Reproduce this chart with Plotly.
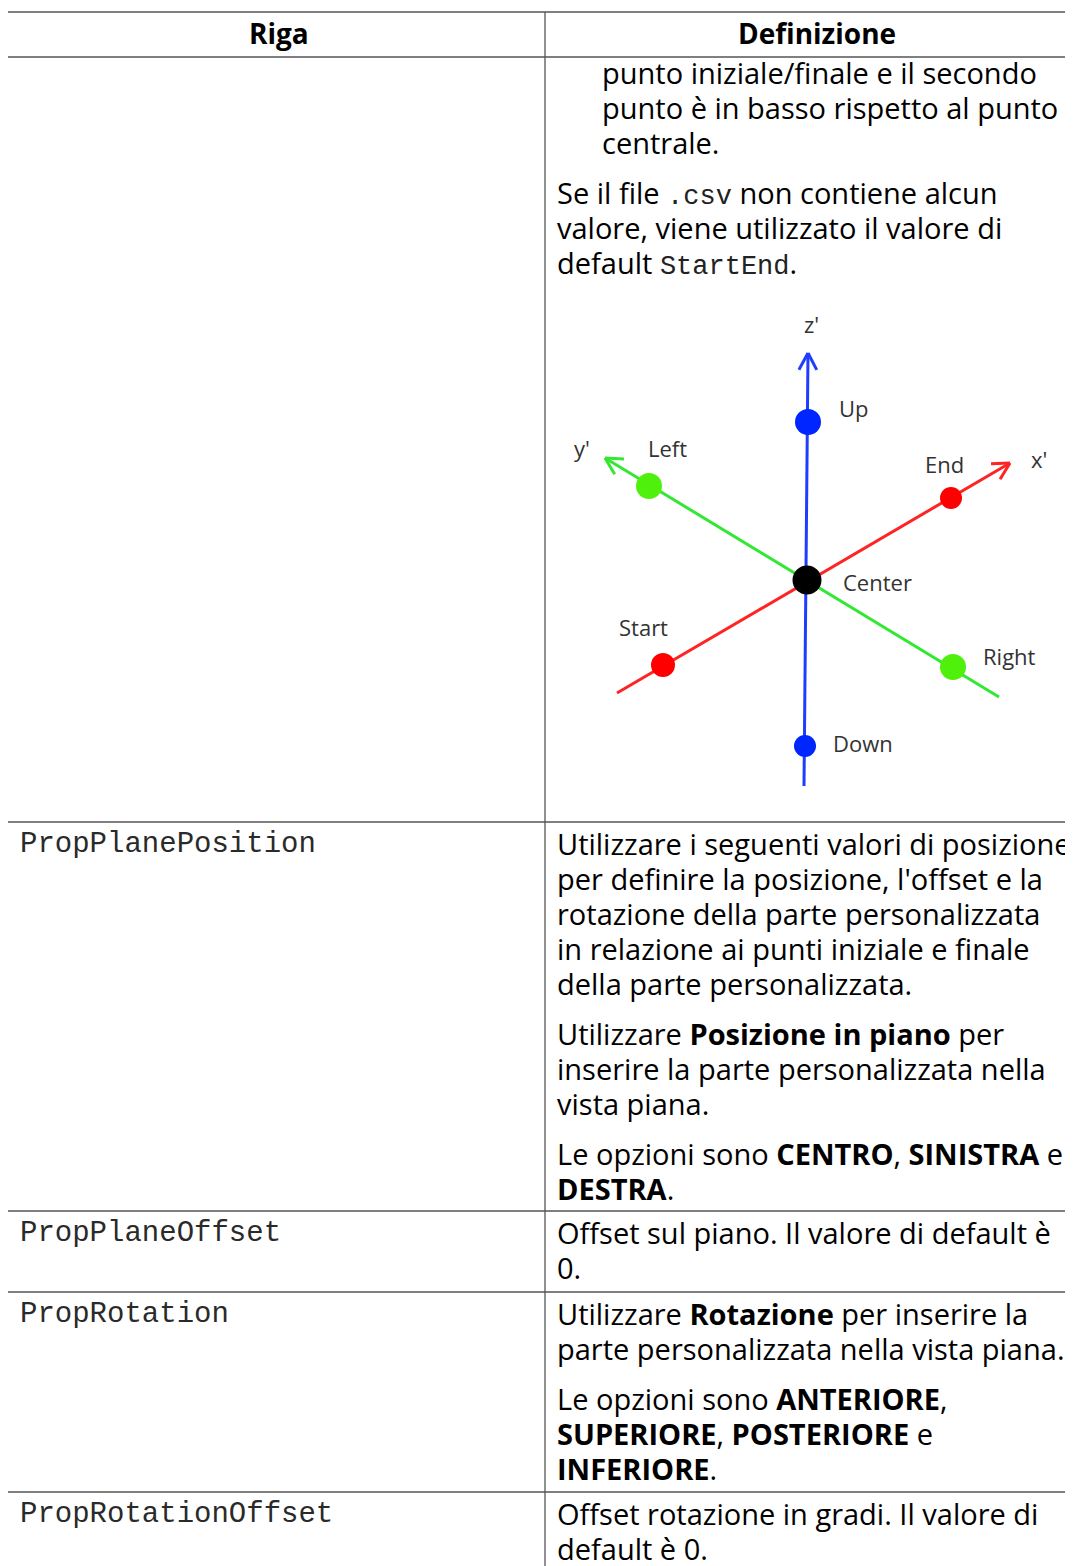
import numpy as np
import plotly.graph_objects as go

PAGE_W, PAGE_H = 1073, 1566
PAD = 8  # default body margin of the html page
W, H = PAGE_W - PAD, PAGE_H - PAD

# ---------------- table content ----------------
header_labels = ["Riga", "Definizione"]
row_names = ["", "PropPlanePosition", "PropPlaneOffset", "PropRotation", "PropRotationOffset"]

MONO = "<span style=\"font-family:Liberation Mono;font-size:27px;fill:#222\">{}</span>"

row_definitions = [
    [
        ["punto iniziale/finale e il secondo",
         "punto è in basso rispetto al punto",
         "centrale."],
        ["Se il file " + MONO.format(".csv") + " non contiene alcun",
         "valore, viene utilizzato il valore di",
         "default " + MONO.format("StartEnd") + "."],
    ],
    [
        ["Utilizzare i seguenti valori di posizione",
         "per definire la posizione, l'offset e la",
         "rotazione della parte personalizzata",
         "in relazione ai punti iniziale e finale",
         "della parte personalizzata."],
        ["Utilizzare <b>Posizione in piano</b> per",
         "inserire la parte personalizzata nella",
         "vista piana."],
        ["Le opzioni sono <b>CENTRO</b>, <b>SINISTRA</b> e",
         "<b>DESTRA</b>."],
    ],
    [
        ["Offset sul piano. Il valore di default è",
         "0."],
    ],
    [
        ["Utilizzare <b>Rotazione</b> per inserire la",
         "parte personalizzata nella vista piana."],
        ["Le opzioni sono <b>ANTERIORE</b>,",
         "<b>SUPERIORE</b>, <b>POSTERIORE</b> e",
         "<b>INFERIORE</b>."],
    ],
    [
        ["Offset rotazione in gradi. Il valore di",
         "default è 0."],
    ],
]

# ---------------- diagram content ----------------
point_names = ["Up", "Down", "Left", "Right", "Start", "End", "Center"]
point_x = [808, 805, 649, 953, 663, 951, 807]
point_y = [422, 746, 486, 667, 665, 498, 580]
point_colors = ["#0026ff", "#0026ff", "#4ff00c", "#4ff00c", "#ff0000", "#ff0000", "#000000"]
point_sizes = [26, 22, 26, 26, 24, 22, 29]
label_x = [854, 863, 667, 1009, 643, 944, 877]
label_y = [408, 743, 448, 656, 627, 464, 582]

axis_names = ["z'", "y'", "x'"]
axis_colors = ["#1e3dff", "#33e833", "#ff2424"]
axis_tail_x = [804, 999, 617]
axis_tail_y = [786, 697, 693]
axis_tip_x = [808, 605, 1010]
axis_tip_y = [353, 458, 463]
axis_label_x = [811, 582, 1039]
axis_label_y = [324, 448, 459]

# ---------------- layout geometry (page pixels) ----------------
TABLE_LEFT, COL_DIV, TABLE_TOP = 7, 545, 12
row_bounds = [57, 822, 1211, 1292, 1492, 1566]
LINE_STEP, PARA_GAP = 35, 50
BODY_FONT = "Open Sans"

fig = go.Figure()

# diagram axes
for i in range(3):
    fig.add_trace(go.Scatter(
        x=[axis_tail_x[i], axis_tip_x[i]], y=[axis_tail_y[i], axis_tip_y[i]],
        mode="lines", line=dict(color=axis_colors[i], width=3),
        hoverinfo="skip", showlegend=False))
    # open V arrow head derived from axis direction
    d = np.array([axis_tip_x[i] - axis_tail_x[i], axis_tip_y[i] - axis_tail_y[i]], float)
    d /= np.linalg.norm(d)
    tip = np.array([axis_tip_x[i], axis_tip_y[i]], float)
    bx, by = [], []
    for ang in (np.radians(28), -np.radians(28)):
        r = np.array([[np.cos(ang), -np.sin(ang)], [np.sin(ang), np.cos(ang)]])
        p = tip - 19 * (r @ d)
        bx += [p[0], tip[0], None]
        by += [p[1], tip[1], None]
    fig.add_trace(go.Scatter(
        x=bx, y=by, mode="lines", line=dict(color=axis_colors[i], width=3),
        hoverinfo="skip", showlegend=False))

fig.add_trace(go.Scatter(
    x=point_x, y=point_y, mode="markers",
    marker=dict(color=point_colors, size=point_sizes, opacity=1, line=dict(width=0)),
    hoverinfo="skip", showlegend=False))

ann = []
for i, name in enumerate(point_names):
    ann.append(dict(x=label_x[i], y=label_y[i], text=name, showarrow=False,
                    xanchor="center", yanchor="middle",
                    font=dict(family=BODY_FONT, size=22, color="#333333")))
for i, name in enumerate(axis_names):
    ann.append(dict(x=axis_label_x[i], y=axis_label_y[i], text=name, showarrow=False,
                    xanchor="center", yanchor="middle",
                    font=dict(family=BODY_FONT, size=22, color="#333333")))

# header
ann.append(dict(x=(TABLE_LEFT + COL_DIV) / 2 + 3, y=33, text="<b>" + header_labels[0] + "</b>",
                showarrow=False, xanchor="center", yanchor="middle",
                font=dict(family=BODY_FONT, size=28, color="#000")))
ann.append(dict(x=817, y=33, text="<b>" + header_labels[1] + "</b>",
                showarrow=False, xanchor="center", yanchor="middle",
                font=dict(family=BODY_FONT, size=28, color="#000")))

# rows
for r, name in enumerate(row_names):
    top = row_bounds[r]
    if name:
        ann.append(dict(x=18, y=top + 22, text=name, showarrow=False,
                        xanchor="left", yanchor="middle",
                        font=dict(family="Liberation Mono", size=29, color="#2a2a2a")))
    y = top + (15 if r == 0 else 21)
    for p, para in enumerate(row_definitions[r]):
        if p > 0:
            y += PARA_GAP - LINE_STEP
        xs = 600 if (r == 0 and p == 0) else 555
        for line in para:
            ann.append(dict(x=xs, y=y, text=line, showarrow=False,
                            xanchor="left", yanchor="middle",
                            font=dict(family=BODY_FONT, size=29, color="#000")))
            y += LINE_STEP

# table lines
shapes = []
line_style = dict(color="#555555", width=1.3)
shapes.append(dict(type="line", x0=TABLE_LEFT, x1=PAGE_W, y0=TABLE_TOP, y1=TABLE_TOP, line=line_style))
for yb in row_bounds[:-1]:
    shapes.append(dict(type="line", x0=TABLE_LEFT, x1=PAGE_W, y0=yb, y1=yb, line=line_style))
shapes.append(dict(type="line", x0=TABLE_LEFT, x1=TABLE_LEFT, y0=TABLE_TOP, y1=PAGE_H, line=line_style))
shapes.append(dict(type="line", x0=COL_DIV, x1=COL_DIV, y0=TABLE_TOP, y1=PAGE_H, line=line_style))

fig.update_layout(
    width=W, height=H,
    margin=dict(l=0, r=0, t=0, b=0),
    paper_bgcolor="white", plot_bgcolor="white",
    xaxis=dict(range=[PAD, PAGE_W], visible=False, fixedrange=True),
    yaxis=dict(range=[PAGE_H, PAD], visible=False, fixedrange=True),
    annotations=ann, shapes=shapes,
    hovermode=False, showlegend=False,
)

fig.write_html("out.html", config={"displayModeBar": False})
